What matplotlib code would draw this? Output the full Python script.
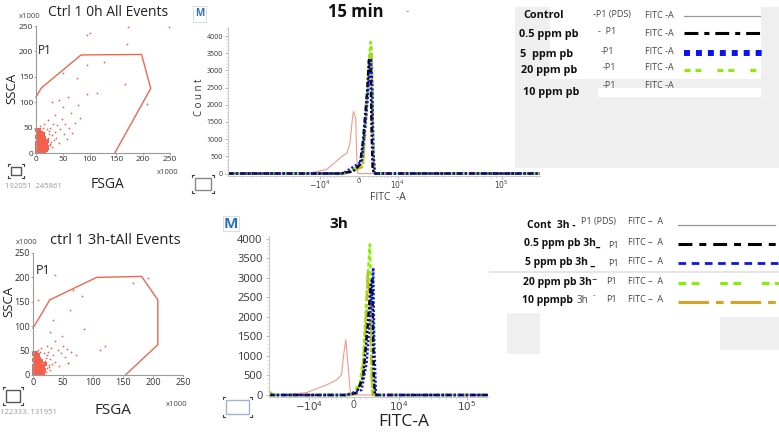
#!/usr/bin/env python3
"""Flow cytometry panel: FSC/SSC gates and FITC-A overlays at 15 min and 3 h."""

import matplotlib

matplotlib.use("Agg")
import matplotlib.pyplot as plt  # noqa: E402
import numpy as np  # noqa: E402
from matplotlib.lines import Line2D  # noqa: E402
from matplotlib.patches import Rectangle  # noqa: E402
from matplotlib.ticker import FixedLocator, MultipleLocator  # noqa: E402

W, H = 779, 432

plt.rcParams["font.family"] = ["Open Sans", "DejaVu Sans"]
plt.rcParams["lines.scale_dashes"] = False

# ---------------- data ----------------
# FSC-A / SSC-A scatter, values in thousands
gate_0h_x = [0, 10, 84, 197, 214, 147]
gate_0h_y = [110, 128, 193, 194, 127, 0]
gate_3h_x = [0, 28, 106, 181, 208, 208, 154]
gate_3h_y = [96, 154, 200, 202, 154, 62, 0]

core_0h_x = [1.5, 4.3, 7.6, 10.1, 13.4, 15.8, 2.5, 5.5, 8.5, 11.6, 14.3, 17.4, 1.3, 3.9,
             7.0, 10.5, 12.7, 16.5, 2.1, 5.0, 8.3, 11.2, 14.6, 3.1, 6.2, 9.4, 12.3, 1.5,
             4.6, 7.8, 10.8, 3.5, 6.7, 9.7, 2.2, 5.5, 19.0, 19.7, 18.1, 21.3, 14.7, 12.9]
core_0h_y = [2.5, 1.8, 3.0, 2.2, 1.5, 3.4, 7.6, 8.8, 7.1, 9.4, 6.8, 8.1, 13.5, 14.9,
             12.7, 15.3, 13.2, 14.6, 19.8, 21.2, 19.1, 22.4, 20.3, 26.7, 27.9, 25.6, 28.3, 32.4,
             33.8, 31.9, 34.6, 38.9, 40.2, 39.1, 44.3, 45.8, 5.2, 11.7, 18.6, 24.1, 30.5, 37.0]
sparse_0h_x = [23, 26, 22, 28, 24, 30, 25, 13, 8, 20, 27, 30, 26, 33, 35, 31, 38, 40, 43,
               45, 48, 52, 55, 57, 62, 65, 68, 72, 78, 82, 50, 35, 22, 42, 15,
               95, 126, 166, 113, 96, 76, 51, 95, 101, 172, 249, 169, 208, 60, 30]
sparse_0h_y = [8, 15, 30, 22, 38, 12, 44, 50, 54, 48, 18, 35, 50, 25, 42, 58, 30, 55, 20,
               48, 66, 38, 57, 28, 50, 78, 40, 60, 95, 68, 90, 75, 64, 105, 58,
               173, 180, 136, 119, 117, 147, 157, 232, 236, 249, 249, 214, 96, 110, 100]

core_3h_x = [1.3, 3.8, 6.7, 9.6, 12.3, 14.7, 2.2, 5.0, 7.9, 10.7, 13.2, 1.0, 3.4, 6.4,
             9.3, 12.2, 15.2, 1.8, 4.6, 7.6, 10.3, 13.4, 2.8, 5.6, 8.5, 11.3, 1.3, 4.2,
             7.1, 9.7, 3.0, 6.0, 2.0, 4.8, 16.8, 18.2, 16.4, 19.3, 14.1, 8.1]
core_3h_y = [2.1, 1.6, 2.8, 1.9, 2.6, 1.4, 7.2, 8.4, 6.6, 8.9, 7.5, 12.8, 13.9, 12.1,
             14.6, 12.9, 13.8, 18.7, 20.1, 18.3, 21.2, 19.4, 25.3, 26.6, 24.7, 27.1, 30.8, 32.2,
             30.4, 33.1, 37.6, 38.8, 42.9, 44.1, 4.8, 10.9, 17.4, 22.6, 28.7, 41.5]
sparse_3h_x = [21, 23, 20, 26, 22, 28, 24, 12, 9, 19, 26, 29, 25, 32, 34, 30, 37, 41, 44,
               46, 50, 53, 56, 58, 64, 36, 23, 14, 48, 28,
               67, 81, 112, 167, 192, 33, 61, 59, 8, 36, 120, 85, 72]
sparse_3h_y = [7, 14, 28, 20, 35, 10, 40, 48, 52, 46, 16, 32, 47, 22, 40, 55, 27, 52, 18,
               45, 60, 36, 54, 25, 47, 70, 60, 55, 80, 88,
               175, 161, 51, 188, 199, 113, 133, 24, 154, 205, 60, 95, 40]

# FITC-A histograms, 15 min
xlim_15 = (-79000, 215000)
ctrl_15_x = [-79000, -14000, -8000, -4000, -2800, -2100, -1600, -1300, -770, -540, -300, 215000]
ctrl_15_y = [0, 0, 120, 500, 600, 890, 1530, 1800, 1630, 560, 0, 0]
pb05_15_x = [-79000, -4500, -1400, 230, 930, 1400, 1940, 2340, 2750, 2990, 3230, 3540, 215000]
pb05_15_y = [0, 0, 60, 260, 940, 1620, 2410, 3300, 3000, 1150, 150, 0, 0]
pb5_15_x = [-79000, -3800, 630, 1800, 2580, 2820, 3140, 3380, 3790, 215000]
pb5_15_y = [0, 0, 350, 1820, 3100, 3350, 2510, 650, 0, 0]
pb20_15_x = [-79000, -3300, 860, 1800, 2410, 2750, 2990, 3230, 3540, 3790, 215000]
pb20_15_y = [0, 0, 260, 2100, 3390, 3830, 3590, 1630, 150, 0, 0]
pb10_15_x = [-79000, -3000, 900, 1800, 2400, 2700, 3000, 3250, 3550, 3800, 215000]
pb10_15_y = [0, 0, 200, 1900, 3200, 3550, 3300, 1400, 100, 0, 0]

# FITC-A histograms, 3 h
xlim_3h = (-39400, 204000)
ctrl_3h_x = [-39400, -20000, -10900, -4890, -2870, -1990, -1590, -1270, -900, -520, 204000]
ctrl_3h_y = [0, 20, 60, 257, 385, 514, 1070, 1413, 727, 0, 0]
pb05_3h_x = [-39400, -1500, 420, 1490, 2330, 2810, 3060, 3370, 3570, 204000]
pb05_3h_y = [0, 0, 50, 470, 1930, 2870, 2950, 470, 0, 0]
pb5_3h_x = [-39400, -1200, 1220, 2050, 2630, 3060, 3240, 3440, 3760, 3900, 204000]
pb5_3h_y = [0, 0, 130, 813, 1930, 2780, 3255, 1330, 40, 0, 0]
pb20_3h_x = [-39400, -37000, -34000, -300, 947, 1490, 1930, 2330, 2630, 2810, 2990, 3120, 204000]
pb20_3h_y = [60, 60, 0, 0, 300, 900, 2180, 3210, 3850, 2610, 470, 0, 0]
pb10_3h_x = [-39400, -314, 1270, 1930, 2270, 2630, 2990, 3180, 204000]
pb10_3h_y = [0, 0, 300, 1800, 3100, 2500, 400, 0, 0]

fitc_ticks = [-1e4, 0, 1e4, 1e5]
fitc_ticklabels = ["$-10^{4}$", "0", "$10^{4}$", "$10^{5}$"]
count_ticks = [0, 500, 1000, 1500, 2000, 2500, 3000, 3500, 4000]
fsc_ticks = [0, 50, 100, 150, 200, 250]

# ---------------- styles ----------------
C_CTRL = "#f4998a"
C_BLACK = "#000000"
C_BLUE = "#0a14f0"
C_GREEN = "#86f000"
C_ORANGE = "#d9a02c"
C_DOT = "#f4604c"

STY = {
    "ctrl": dict(color=C_CTRL, lw=0.8, ls="-"),
    "pb10": dict(color=C_ORANGE, lw=1.8, ls=(0, (7, 2, 2, 2))),
    "pb20": dict(color=C_GREEN, lw=1.8, ls=(0, (3, 2))),
    "pb05": dict(color=C_BLACK, lw=1.8, ls=(0, (4, 1.5, 1.5, 1.5))),
    "pb5": dict(color=C_BLUE, lw=1.8, ls=(0, (1.5, 1.5))),
}


def px_axes(fig, left, top, right, bottom):
    return fig.add_axes([left / W, 1 - bottom / H, (right - left) / W, (bottom - top) / H])


def ftext(fig, px, py, s, **kw):
    kw.setdefault("va", "center")
    fig.text(px / W, 1 - py / H, s, **kw)


def fline(fig, x0, x1, py, **kw):
    fig.add_artist(Line2D([x0 / W, x1 / W], [1 - py / H, 1 - py / H], **kw))


def frect(fig, x0, y0, x1, y1, **kw):
    fig.add_artist(Rectangle((x0 / W, 1 - y1 / H), (x1 - x0) / W, (y1 - y0) / H, **kw))


def icon(fig, x0, y0, x1, y1, edge):
    """Small 'zoom frame' icon: a box with corner marks."""
    frect(fig, x0 + 3, y0 + 3, x1 - 3, y1 - 3, fill=False, ec=edge, lw=1.0)
    for cx, sx in ((x0, 1), (x1, -1)):
        for cy, sy in ((y0, 1), (y1, -1)):
            fig.add_artist(Line2D([cx / W, (cx + 2 * sx) / W], [1 - cy / H] * 2, color="#444", lw=0.8))
            fig.add_artist(Line2D([cx / W] * 2, [1 - cy / H, 1 - (cy + 2 * sy) / H], color="#444", lw=0.8))


def asinh_scale(c):
    return (lambda v: np.arcsinh(np.asarray(v, dtype=float) / c),
            lambda v: c * np.sinh(np.asarray(v, dtype=float)))


def style_scatter(ax, fs):
    ax.set_xlim(0, 250)
    ax.set_ylim(0, 250)
    for side in ("top", "right"):
        ax.spines[side].set_visible(False)
    for side in ("left", "bottom"):
        ax.spines[side].set_color("#9a9a9a")
        ax.spines[side].set_linewidth(0.8)
    ax.set_xticks(fsc_ticks)
    ax.set_yticks(fsc_ticks)
    ax.tick_params(labelsize=fs, length=1.5, width=0.6, color="#9a9a9a", pad=0.5, labelcolor="#333")
    ax.patch.set_alpha(0)


def draw_scatter(ax, gx, gy, cx, cy, sx, sy):
    ax.scatter(cx, cy, s=10, marker="s", color=C_DOT, lw=0, clip_on=False)
    ax.scatter(sx, sy, s=1.6, color=C_DOT, lw=0, clip_on=False)
    ax.plot(gx, gy, color="#f0664f", lw=1.0, clip_on=False)


def draw_hist(ax, series, c, xlim, ylim, fs, xfs, ypad):
    ax.set_xscale("function", functions=asinh_scale(c))
    for key, xs, ys in series:
        ax.plot(xs, ys, **STY[key])
    ax.set_xlim(*xlim)
    ax.set_ylim(*ylim)
    for side in ("top", "right"):
        ax.spines[side].set_visible(False)
    for side in ("left", "bottom"):
        ax.spines[side].set_color("#c8c8c8")
        ax.spines[side].set_linewidth(0.7)
    ax.xaxis.set_major_locator(FixedLocator(fitc_ticks))
    ax.set_xticklabels(fitc_ticklabels)
    minor = ([-v for v in range(10000, 80000, 10000)] + [-v for v in range(1000, 10000, 1000)]
             + list(range(1000, 10000, 1000)) + list(range(10000, 100000, 10000)) + [200000])
    ax.xaxis.set_minor_locator(FixedLocator(minor))
    ax.set_yticks(count_ticks)
    ax.yaxis.set_minor_locator(MultipleLocator(100))
    ax.tick_params(which="major", labelsize=fs, length=2.5, width=0.6, color="#aaa", pad=ypad,
                   labelcolor="#333")
    ax.tick_params(axis="x", which="major", length=2, pad=0, labelsize=xfs, labelcolor="#444")
    ax.tick_params(which="minor", length=1.5, width=0.5, color="#cfcfcf")
    ax.patch.set_alpha(0)


fig = plt.figure(figsize=(W / 100, H / 100), dpi=100)
fig.patch.set_facecolor("white")

# ---------------- top-left scatter ----------------
ax = px_axes(fig, 36, 26, 170, 153)
style_scatter(ax, 6)
draw_scatter(ax, gate_0h_x, gate_0h_y, core_0h_x, core_0h_y, sparse_0h_x, sparse_0h_y)
ftext(fig, 108, 13, "Ctrl 1 0h All Events", ha="center", fontsize=10, color="#222")
ftext(fig, 30, 16, "x1000", ha="center", fontsize=5.5, color="#444")
ftext(fig, 45, 50, "P1", ha="center", fontsize=8.5, color="#222")
ftext(fig, 12, 88, "SSCA", ha="center", rotation=90, fontsize=9.5, color="#222")
ftext(fig, 108, 185, "FSGA", ha="center", fontsize=10, color="#222")
ftext(fig, 168, 173, "x1000", ha="center", fontsize=5.5, color="#444")
ftext(fig, 33, 186, "192051  245861", ha="center", fontsize=5.5, color="#999")
icon(fig, 8, 164, 24, 178, "#555")

# ---------------- bottom-left scatter ----------------
ax = px_axes(fig, 33, 253, 183, 375)
style_scatter(ax, 6.5)
draw_scatter(ax, gate_3h_x, gate_3h_y, core_3h_x, core_3h_y, sparse_3h_x, sparse_3h_y)
ftext(fig, 115, 240, "ctrl 1 3h-tAll Events", ha="center", fontsize=10.5, color="#222")
ftext(fig, 27, 243, "x1000", ha="center", fontsize=5.5, color="#444")
ftext(fig, 43, 271, "P1", ha="center", fontsize=9, color="#222")
ftext(fig, 9, 301, "SSCA", ha="center", rotation=90, fontsize=9.5, color="#222")
ftext(fig, 113, 410, "FSGA", ha="center", fontsize=11, color="#222")
ftext(fig, 177, 404, "x1000", ha="center", fontsize=5.5, color="#444")
ftext(fig, 28, 413, "122333. 131951", ha="center", fontsize=5.5, color="#999")
icon(fig, 3, 387, 23, 405, "#555")

# ---------------- top histogram (15 min) ----------------
ax = px_axes(fig, 228, 27, 540, 175.5)
draw_hist(ax, [("ctrl", ctrl_15_x, ctrl_15_y), ("pb10", pb10_15_x, pb10_15_y),
               ("pb20", pb20_15_x, pb20_15_y), ("pb05", pb05_15_x, pb05_15_y),
               ("pb5", pb5_15_x, pb5_15_y)],
          11700, xlim_15, (-58, 4262), 5.0, 5.5, 1)
ftext(fig, 356, 12, "15 min", ha="center", fontsize=12, fontweight="bold", color="#111")
ftext(fig, 407, 12, "-", ha="center", fontsize=7, color="#777")
ftext(fig, 200, 97, "C o u n t", ha="center", rotation=90, fontsize=7, color="#333")
ftext(fig, 388, 197, "FITC  -A", ha="center", fontsize=7.5, color="#444")
frect(fig, 193, 6, 206, 22, fc="white", ec="#dddddd", lw=0.8)
ftext(fig, 199.5, 13, "M", ha="center", fontsize=7, fontweight="bold", color="#2a6fc9")
icon(fig, 192, 175, 214, 193, "#888")

# ---------------- bottom histogram (3 h) ----------------
ax = px_axes(fig, 269, 236, 488, 397)
draw_hist(ax, [("ctrl", ctrl_3h_x, ctrl_3h_y), ("pb10", pb10_3h_x, pb10_3h_y),
               ("pb20", pb20_3h_x, pb20_3h_y), ("pb05", pb05_3h_x, pb05_3h_y),
               ("pb5", pb5_3h_x, pb5_3h_y)],
          4700, xlim_3h, (-51, 4067), 8, 7.5, 2)
ftext(fig, 339, 224, "3h", ha="center", fontsize=11, fontweight="bold", color="#111")
ftext(fig, 404, 422, "FITC-A", ha="center", fontsize=12.5, color="#222")
frect(fig, 223, 216, 239, 231, fc="white", ec="#dddddd", lw=0.8)
ftext(fig, 231, 223.5, "M", ha="center", fontsize=11, fontweight="bold", color="#2a6fc9")
icon(fig, 223, 397, 252, 417, "#9ab6d8")

# ---------------- top legend ----------------
frect(fig, 515, 7, 779, 168, fc="#efefef", ec="none")
frect(fig, 550, 7, 761, 79, fc="white", ec="none")
frect(fig, 598, 88, 761, 97, fc="white", ec="none")
leg_top = [("Control", 523, 16), ("0.5 ppm pb", 519, 35), ("5  ppm pb", 520, 55),
           ("20 ppm pb", 521, 70), ("10 ppm pb", 523, 92)]
for s, x, y in leg_top:
    ftext(fig, x, y, s, ha="left", fontsize=7.8, fontweight="bold", color="#111")
for s, x, y in [("-P1 (PDS)", 593, 15), ("-  P1", 598, 32), ("-P1", 601, 51),
                ("-P1", 603, 68), ("-P1", 603, 86)]:
    ftext(fig, x, y, s, ha="left", fontsize=6.5, color="#444")
for y in (15, 33, 51, 68, 86):
    ftext(fig, 645, y, "FITC -A", ha="left", fontsize=6.5, color="#444")
fline(fig, 684, 760, 15.5, color="#999", lw=0.9)
fline(fig, 684, 760, 33, color=C_BLACK, lw=2.2, ls=(0, (10, 4.3, 3.6, 4.3)))
fline(fig, 684, 765, 53, color=C_BLUE, lw=4.3, ls=(0, (4.3, 4.3)))
fline(fig, 684, 757, 69.5, color=C_GREEN, lw=2.2, ls=(0, (4.3, 3.6, 4.3, 11.5)))

# ---------------- bottom legend ----------------
fline(fig, 490, 779, 272, color="#e6e6e6", lw=1.5)
frect(fig, 507, 313, 540, 354, fc="#efefef", ec="none")
frect(fig, 720, 317, 779, 350, fc="#efefef", ec="none")
leg_bot = [("Cont  3h -", 527, 225), ("0.5 ppm pb 3h_", 524, 244), ("5 ppm pb 3h _", 525, 262),
           ("20 ppm pb 3h\u207b", 523, 282)]
for s, x, y in leg_bot:
    ftext(fig, x, y, s, ha="left", fontsize=7.5, fontweight="bold", color="#111")
ftext(fig, 522, 300, "10 ppmpb", ha="left", fontsize=7.5, fontweight="bold", color="#111")
ftext(fig, 577, 300.5, "3h", ha="left", fontsize=7, color="#444")
ftext(fig, 593, 296, "-", ha="left", fontsize=6, color="#444")
for s, x, y in [("P1 (PDS)", 581, 222), ("P1", 608, 245), ("P1", 608, 264),
                ("P1", 606, 281), ("P1", 606, 299)]:
    ftext(fig, x, y, s, ha="left", fontsize=6.5, color="#444")
for y in (222, 242, 262, 282, 300):
    ftext(fig, 628, y, "FITC –  A", ha="left", fontsize=6.5, color="#444")
fline(fig, 678, 775, 224.5, color="#999", lw=0.9)
fline(fig, 678, 779, 244, color=C_BLACK, lw=2.2, ls=(0, (10, 5, 5, 5)))
fline(fig, 678, 779, 263, color=C_BLUE, lw=2.0, ls=(0, (5.5, 4)))
fline(fig, 678, 779, 283, color=C_GREEN, lw=2.2, ls=(0, (5.5, 4, 5.5, 15)))
fline(fig, 678, 779, 302, color=C_ORANGE, lw=2.2, ls=(0, (22, 5, 5.5, 5)))

fig.savefig("out.png", dpi=100)
plt.close(fig)
